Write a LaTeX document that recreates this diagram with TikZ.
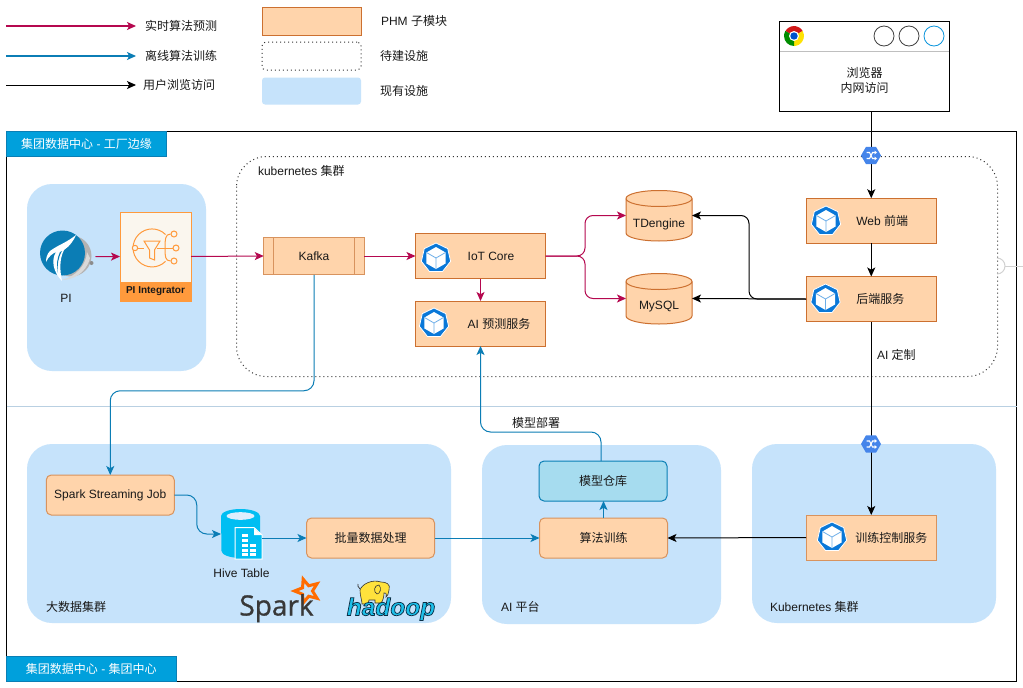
\documentclass[tikz,border=0pt]{standalone}
\usepackage{fontspec}
\setmainfont{Liberation Sans}
\newfontfamily\cjkf{Noto Sans CJK SC}
\newfontfamily\sparkf[FakeBold=0.9]{Open Sans}
\newfontface\hadoopf[FakeBold=3]{Liberation Sans Bold Italic}
\newcommand{\zh}[1]{{\cjkf #1}}
\usetikzlibrary{arrows.meta,calc}
\definecolor{orgfill}{HTML}{FFD4AB}
\definecolor{orgline}{HTML}{CC7030}
\definecolor{orgsoft}{HTML}{D8935E}
\definecolor{regblue}{HTML}{C6E3FB}
\definecolor{crim}{HTML}{B5084F}
\definecolor{ocean}{HTML}{0B7DB5}
\definecolor{tabblue}{HTML}{00A0DC}
\definecolor{tabline}{HTML}{0A7FB5}
\definecolor{repofill}{HTML}{A6DCEF}
\definecolor{kubeblue}{HTML}{0A78D8}
\definecolor{swblue}{HTML}{4585EA}
\definecolor{piorange}{HTML}{FF9A3C}
\definecolor{picream}{HTML}{FAF6EE}
\definecolor{hivecyan}{HTML}{00BEF2}
\definecolor{sepline}{HTML}{B9D0E2}
\definecolor{elephant}{HTML}{FFE23C}
\tikzset{
  x=1pt,y=-1pt,
  every node/.style={font=\fontsize{12}{14.5}\selectfont,inner sep=0pt,outer sep=0pt,text=black!90},
  tip/.style={-{Stealth[length=9pt,width=8pt,inset=2.2pt]}},
  conn/.style={tip,line width=1pt,rounded corners=8pt},
  rt/.style={conn,crim},
  off/.style={conn,ocean},
  usr/.style={conn,black},
  sparsedots/.style={dash pattern=on 1pt off 3pt},
  region/.style={fill=regblue,draw=none,rounded corners=25pt},
  kbox/.style={draw=orgline,fill=orgfill,line width=1pt,minimum width=130pt,minimum height=45pt},
  rbox/.style={draw=orgsoft,fill=orgfill,line width=1pt,rounded corners=5pt,minimum width=128pt,minimum height=40pt},
  tabbox/.style={draw=tabline,fill=tabblue,line width=1pt,text=white,minimum height=25pt},
  txt/.style={anchor=west},
  kube/.pic={
    \begin{scope}[x=1pt,y=1pt]
      \fill[kubeblue,draw=white,line width=0.8pt,line join=round]
        (90:15pt)--(141.4:15pt)--(192.9:15pt)--(244.3:15pt)--(295.7:15pt)--(347.1:15pt)--(38.6:15pt)--cycle;
      \fill[white] (90:11pt)--(150:11pt)--(210:11pt)--(270:11pt)--(330:11pt)--(30:11pt)--cycle;
      \draw[kubeblue!60,line width=0.8pt] (150:11pt)--(0,0)--(30:11pt) (0,0)--(270:11pt);
    \end{scope}},
  sw/.pic={
    \begin{scope}[x=1pt,y=1pt]
      \fill[swblue] (0:10pt)--(60:10pt)--(120:10pt)--(180:10pt)--(240:10pt)--(300:10pt)--cycle;
      \draw[white,line width=1.1pt] (-4.5,3) -- (-1.5,3) -- (1.5,-3) -- (4,-3);
      \draw[white,line width=1.1pt] (-4.5,-3) -- (-1.5,-3) -- (1.5,3) -- (4,3);
      \fill[white] (3.5,-5)--(6,-3)--(3.5,-1)--cycle (3.5,5)--(6,3)--(3.5,1)--cycle;
    \end{scope}}
}
\newcommand{\cyl}[3]{% cx, top, bottom
  \path[draw=orgline,fill=orgfill,line width=1pt]
    ({#1-33},{#2+8}) arc[start angle=180,end angle=0,x radius=33pt,y radius=8pt]
    -- ({#1+33},{#3-8}) arc[start angle=0,end angle=-180,x radius=33pt,y radius=8pt] -- cycle;
  \draw[orgline,line width=1pt] ({#1-33},{#2+8}) arc[start angle=180,end angle=360,x radius=33pt,y radius=8pt];
}
\begin{document}
\begin{tikzpicture}
\useasboundingbox (0,0) rectangle (1023,688);
\fill[white] (0,0) rectangle (1023,688);

% frame
\draw[black,line width=1pt] (6.5,131.5) rectangle (1016.5,681.5);
\draw[sepline,line width=1pt] (6.5,406.5) -- (1016.5,406.5);

% regions
\path[region] (27,184) rectangle (206,371);
\path[region] (27,444) rectangle (451,623);
\path[region] (482,445) rectangle (721,624);
\path[region] (752,444) rectangle (996,623);

% planned k8s
\draw[black!80,line width=1pt,sparsedots,rounded corners=30pt] (236.5,156.5) rectangle (997.5,376.5);
\node[txt] (k8stitle) at (258,171) {kubernetes \zh{集群}};
\draw[black!18,line width=1pt] (997,258) arc[start angle=90,end angle=-90,radius=8pt];
\draw[black!18,line width=1pt] (1005,266) -- (1023,266);

% legend
\coordinate (la1) at (6,26); \coordinate (lb1) at (136,26);
\coordinate (la2) at (6,56); \coordinate (lb2) at (136,56);
\coordinate (la3) at (6,85); \coordinate (lb3) at (136,85);
\draw[rt,line width=1.2pt] (la1) -- (lb1);
\draw[off,line width=1.2pt] (la2) -- (lb2);
\draw[usr] (la3) -- (lb3);
\node[txt] (lt1) at (145,26) {\zh{实时算法预测}};
\node[txt] (lt2) at (145,56) {\zh{离线算法训练}};
\node[txt] (lt3) at (143,85) {\zh{用户浏览访问}};
\node[draw=orgline,fill=orgfill,line width=1pt,minimum width=99pt,minimum height=28pt] (lg1) at (311.5,21) {};
\node[draw=black!80,sparsedots,line width=1pt,rounded corners=4pt,minimum width=99pt,minimum height=28pt] (lg2) at (311.5,56) {};
\node[fill=regblue,rounded corners=3pt,minimum width=99pt,minimum height=27pt] (lg3) at (311.5,91) {};
\node[txt] (lt4) at (381,21) {PHM \zh{子模块}};
\node[txt] (lt5) at (380,56) {\zh{待建设施}};
\node[txt] (lt6) at (380,91) {\zh{现有设施}};

% tabs
\node[tabbox,minimum width=160pt] (tab1) at (86.5,144) {\zh{集团数据中心} - \zh{工厂边缘}};
\node[tabbox,minimum width=169.5pt] (tab2) at (91.25,669) {\zh{集团数据中心} - \zh{集团中心}};

% browser
\node[draw=black,fill=white,line width=1pt,minimum width=170pt,minimum height=89.5pt] (browser) at (864.5,66.25) {};
\draw[black!25,line width=1pt] (780,51) -- (949,51);
\node[align=center] (browsertxt) at (864.5,80.5) {\zh{浏览器}\\\zh{内网访问}};
\draw[black!75,line width=0.8pt] (884,36) circle[radius=10pt];
\draw[black!75,line width=0.8pt] (909,36) circle[radius=10pt];
\draw[cyan!80!blue,line width=0.8pt] (934,36) circle[radius=10pt];
\begin{scope}[shift={(794,36)},x=1pt,y=1pt]
  \fill[red!80!black!90] (0,0) -- (150:10pt) arc[start angle=150,end angle=30,radius=10pt] -- cycle;
  \fill[yellow!85!orange] (0,0) -- (30:10pt) arc[start angle=30,end angle=-90,radius=10pt] -- cycle;
  \fill[green!55!black] (0,0) -- (-90:10pt) arc[start angle=-90,end angle=-210,radius=10pt] -- cycle;
  \fill[white] (0,0) circle[radius=5pt];
  \fill[blue!60!cyan!80!black] (0,0) circle[radius=3.7pt];
\end{scope}

% PI area
\begin{scope}
  \fill[black!30] (71,256) circle[radius=20.5pt];
  \fill[ocean] (62.5,253) circle[radius=22.5pt];
  \fill[black!15] (87,252) .. controls (86,266) and (76,276) .. (62,280) .. controls (72,280) and (86,274) .. (90,258) -- cycle;
  \fill[white] (76,235) .. controls (66,243) and (58,245) .. (50,251) .. controls (47,254) and (46,258) .. (46,262)
     .. controls (49,256) and (52,254) .. (56,252) .. controls (51,260) and (53,272) .. (62,281)
     .. controls (60,271) and (59,260) .. (64,250) .. controls (70,246) and (74,240) .. (76,235) -- cycle;
  \fill[ocean] (60,252) .. controls (57,258) and (56,266) .. (58,273) .. controls (57,265) and (58,258) .. (62,251) -- cycle;
  \fill[black!45] (91.5,263) circle[radius=2pt];
\end{scope}
\node[minimum width=60pt,minimum height=50pt] (pilogo) at (65.5,256.7) {};
\node (pilabel) at (66,298) {PI};
\node[draw=piorange,fill=picream,line width=1pt,minimum width=71pt,minimum height=89pt] (pii) at (155.5,256.5) {};
\node[fill=piorange,minimum width=71pt,minimum height=19pt,font=\fontsize{10}{12}\selectfont\bfseries] (piifoot) at (155.5,291.5) {PI Integrator};
\begin{scope}[draw=piorange,line width=1pt]
  \draw (165.5,234.5) arc[start angle=45,end angle=315,radius=19pt];
  \draw[fill=picream] (135,248) circle[radius=2.7pt];
  \draw (138,248) -- (144,248);
  \draw (144,241) -- (160,241) -- (154.5,250) -- (154.5,260) -- (149.5,258) -- (149.5,250) -- cycle;
  \draw (157,248) -- (172.5,248);
  \draw (165,248) .. controls (165,240) and (165,234) .. (170.5,234);
  \draw (165,248) .. controls (165,256) and (165,261) .. (170.5,261);
  \draw[fill=picream] (174,234) circle[radius=3pt];
  \draw[fill=picream] (176,248) circle[radius=3pt];
  \draw[fill=picream] (174,261) circle[radius=3pt];
\end{scope}

% service nodes
\node[draw=orgsoft,fill=orgfill,line width=1pt,minimum width=100.5pt,minimum height=37.5pt,
  path picture={\draw[orgsoft,line width=1pt] ([xshift=9.5pt]path picture bounding box.north west) -- ([xshift=9.5pt]path picture bounding box.south west)
  ([xshift=-10pt]path picture bounding box.north east) -- ([xshift=-10pt]path picture bounding box.south east);}] (kafka) at (314,256) {Kafka};
\node[kbox] (iot) at (480.5,256) {\hspace*{21pt}IoT Core};
\node[kbox] (aip) at (480.5,323.5) {\hspace*{37pt}AI \zh{预测服务}};
\node[kbox,minimum width=130.5pt] (web) at (871.25,220.75) {\hspace*{22pt}Web \zh{前端}};
\node[kbox,minimum width=130.5pt] (backend) at (871.25,299) {\hspace*{18pt}\zh{后端服务}};
\node[kbox,draw=orgsoft,minimum width=130.5pt] (train) at (871.25,537.5) {\hspace*{40pt}\zh{训练控制服务}};
\pic at (436,258) {kube};
\pic at (434,323) {kube};
\pic at (826,221) {kube};
\pic at (825.5,299) {kube};
\pic at (832,537) {kube};

\cyl{659}{190.5}{241}
\cyl{659}{273.5}{324}
\node[minimum width=66pt,minimum height=50.5pt] (td) at (659,215.5) {\raisebox{-11.5pt}[0pt][0pt]{TDengine}};
\node[minimum width=66pt,minimum height=50.5pt] (mysql) at (659,298.5) {\raisebox{-11pt}[0pt][0pt]{MySQL}};

\node[rbox] (sjob) at (110.25,495) {Spark Streaming Job};
\node[rbox] (batch) at (370.5,538) {\zh{批量数据处理}};
\node[rbox] (algo) at (603.5,538) {\zh{算法训练}};
\node[rbox,draw=tabline,fill=repofill] (repo) at (603,481) {\zh{模型仓库}};

% hive
\fill[hivecyan] (221,516) arc[start angle=180,end angle=0,x radius=19.5pt,y radius=7pt]
  -- (260.5,551) arc[start angle=0,end angle=-180,x radius=19.5pt,y radius=7pt] -- cycle;
\fill[regblue!60!white] (240.5,516) ellipse[x radius=14pt,y radius=3.8pt];
\draw[white,line width=1pt,fill=hivecyan] (235,527.5) -- (254,527.5) -- (262,535) -- (262,559) -- (235,559) -- cycle;
\fill[white] (254,528) -- (261.5,535) -- (254,535) -- cycle;
\foreach \yy in {534,539,544,549,553}{\fill[white] (242,\yy) rectangle ++(6,2.6);}
\foreach \yy in {544,549,553}{\fill[white] (249.5,\yy) rectangle ++(6,2.6);}
\node[minimum width=41pt,minimum height=50pt] (hive) at (241.5,534) {};
\node (hivelabel) at (241.5,573) {Hive Table};

% region labels
\node[txt] (bdlabel) at (46,607) {\zh{大数据集群}};
\node[txt] (ailabel) at (501,607) {AI \zh{平台}};
\node[txt] (kclabel) at (770,607) {Kubernetes \zh{集群}};

% logos
\begin{scope}[shift={(307,591)},x=1pt,y=1pt]
  \draw[orange!85!red,line width=3pt,line join=miter]
    (108:12.5pt)--(72:5.5pt)--(36:12.5pt)--(0:5.5pt)--(-36:12.5pt)--(-72:5.5pt)--(-108:12.5pt)--(-144:5.5pt)--(180:12.5pt)--(144:5.5pt)--cycle;
\end{scope}
\node[anchor=base,text=black!78,font=\fontsize{28}{30}\sparkf] (sparklogo) at (276.5,615.5) {Spark};
% elephant
\begin{scope}[draw=black!80,line width=0.6pt,fill=elephant]
  \filldraw (360,590) .. controls (362,584) and (372,579) .. (381,582) .. controls (386,582) and (391,584) .. (389,590)
    .. controls (388,594) and (388,596) .. (386,597) .. controls (387,593) and (385,592) .. (384,593)
    .. controls (384,596) and (383,601) .. (381,603) -- (375,603) -- (375,600) -- (369,600) -- (368,604) -- (362,604)
    .. controls (362,600) and (360,596) .. (360,590) -- cycle;
  \filldraw (379,585) .. controls (374,585) and (373,592) .. (377,594) .. controls (380,594) and (382,588) .. (379,585) -- cycle;
\end{scope}
\draw[black!80,line width=0.7pt] (360,589) .. controls (358,586) and (357,586) .. (358,584);
\node[anchor=base,font=\fontsize{24.5}{26}\hadoopf] (hadooplogo) at (391,615.5)
  {\textcolor[HTML]{1CC0EA}{\special{pdf:code 0.04 0.18 0.27 RG}hadoop}};

% connectors
\draw[rt] (pilogo.east) -- (pii.west);
\draw[rt] (pii.east) -- (kafka.west);
\draw[rt] (kafka.east) -- (iot.west);
\draw[rt] (iot.south) -- (aip.north);
\draw[rt] (iot.east) -- ++(39.5,0) |- (td.west);
\draw[rt] (iot.east) -- ++(39.5,0) |- (mysql.west);
\draw[usr] (backend.west) -- ++(-57,0) |- (td.east);
\draw[usr] (backend.west) -- (mysql.east);
\draw[usr] (web.north |- browser.south) -- (web.north);
\draw[usr] (web.south) -- (backend.north);
\draw[usr] (backend.south) -- (train.north);
\node[txt] (aidz) at (877,355) {AI \zh{定制}};
\draw[usr] (train.west) -- (algo.east);
\draw[off,rounded corners=10pt] (kafka.south) -- ++(0,116) -| (sjob.north);
\draw[off,rounded corners=10pt] (sjob.east) -- ++(22.5,0) |- (hive.west);
\draw[off] (batch.west -| hive.east) -- (batch.west);
\draw[off] (batch.east) -- (algo.west);
\draw[off] (algo.north) -- (repo.south -| algo.north);
\draw[off,rounded corners=10pt] ([xshift=-2pt]repo.north) -- ++(0,-29) -| (aip.south);
\node (deploy) at (536,423) {\zh{模型部署}};

\pic at (871,155.5) {sw};
\pic at (871,444) {sw};
\end{tikzpicture}
\end{document}
